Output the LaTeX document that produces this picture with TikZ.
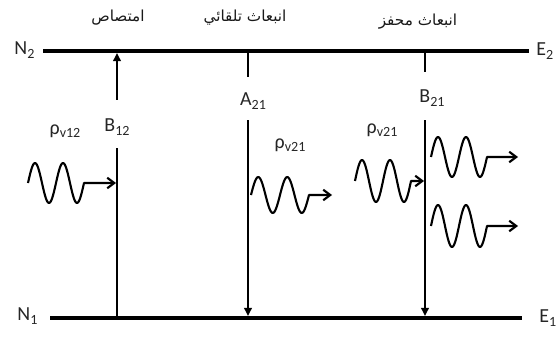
\documentclass[tikz,border=0pt]{standalone}
\usepackage{fontspec}
\setmainfont{Carlito}
\newfontfamily\arabicfont[Script=Arabic]{DejaVu Sans}
\TeXXeTstate=1
\usetikzlibrary{arrows.meta}
% letter with a lowered small index
\newcommand{\lvl}[2]{#1\raisebox{-0.35ex}{\fontsize{12}{12}\selectfont #2}}

\begin{document}
\begin{tikzpicture}[x=0.03cm, y=-0.03cm,
      level/.style={line width=3pt},
      trans/.style={line width=2pt},
      transtip/.style={trans, -{Triangle[length=7pt,width=6.5pt]}},
      wave/.style={line width=1.8pt, line join=round, -{Straight Barb[length=6pt,width=9pt]}},
      lbl/.style={font=\fontsize{17}{19}\selectfont, text=black!85, inner sep=1pt},
      arlbl/.style={font=\arabicfont\fontsize{13}{15}\selectfont, text=black!90, inner sep=1pt}]

      \useasboundingbox (0,0) rectangle (556,339);

      % Energy levels
      \coordinate (n2l) at (43,51);
      \coordinate (n2r) at (529,51);
      \coordinate (n1l) at (50,318);
      \coordinate (n1r) at (522,318);
      \draw[level] (n2l) -- (n2r);
      \draw[level] (n1l) -- (n1r);
      \node[lbl, anchor=west] (N2) at (13,50) {\lvl{N}{2}};
      \node[lbl, anchor=west] (N1) at (16,316) {\lvl{N}{1}};
      \node[lbl, anchor=west] (E2) at (535,51) {\lvl{E}{2}};
      \node[lbl, anchor=west] (E1) at (538,318) {\lvl{E}{1}};

      % Process titles
      \node[arlbl] (absorb) at (118,18) {\beginR امتصاص\endR};
      \node[arlbl] (spont) at (245,18) {\beginR انبعاث تلقائي\endR};
      \node[arlbl] (stim) at (418,22) {\beginR انبعاث محفز\endR};

      % --- Absorption ---
      \coordinate (abstop) at (117,53);
      \coordinate (absmid) at (117,100);
      \coordinate (absin) at (117,148);
      \coordinate (absbot) at (117,318);
      \draw[transtip] (absmid) -- (abstop);
      \draw[trans] (absin) -- (absbot);
      \node[lbl] (B12) at (117,127) {\lvl{B}{12}};
      \node[lbl] (rho12) at (65,131) {\lvl{ρ}{v12}};
      \coordinate (w1end) at (116,183);
      \draw[wave] plot[domain=0:56, samples=57, smooth] ({28+\x},{183-20*sin(\x/28*360)}) -- (w1end);

      % --- Spontaneous emission ---
      \coordinate (spotop) at (248,51);
      \coordinate (spomid) at (248,77);
      \coordinate (spoin) at (248,120);
      \coordinate (spobot) at (248,316);
      \draw[trans] (spotop) -- (spomid);
      \draw[transtip] (spoin) -- (spobot);
      \node[lbl] (A21) at (253,101) {\lvl{A}{21}};
      \node[lbl] (rho21a) at (290,145) {\lvl{ρ}{v21}};
      \coordinate (w2end) at (332,195);
      \draw[wave] plot[domain=0:58, samples=59, smooth] ({251+\x},{195-18*sin(\x/29*360)}) -- (w2end);

      % --- Stimulated emission ---
      \coordinate (stitop) at (425,51);
      \coordinate (stimid) at (425,72);
      \coordinate (stiin) at (425,120);
      \coordinate (stibot) at (425,316);
      \draw[trans] (stitop) -- (stimid);
      \draw[transtip] (stiin) -- (stibot);
      \node[lbl] (B21) at (432,98) {\lvl{B}{21}};
      \node[lbl] (rho21b) at (382,130) {\lvl{ρ}{v21}};
      \coordinate (w3end) at (424,181);
      \draw[wave] plot[domain=0:56, samples=57, smooth] ({355+\x},{181-21*sin(\x/28*360)}) -- (w3end);
      \coordinate (w4end) at (518,157);
      \draw[wave] plot[domain=0:56, samples=57, smooth] ({431+\x},{157-20*sin(\x/28*360)}) -- (w4end);
      \coordinate (w5end) at (518,226);
      \draw[wave] plot[domain=0:56, samples=57, smooth] ({431+\x},{226-21*sin(\x/28*360)}) -- (w5end);

    \end{tikzpicture}
\end{document}
